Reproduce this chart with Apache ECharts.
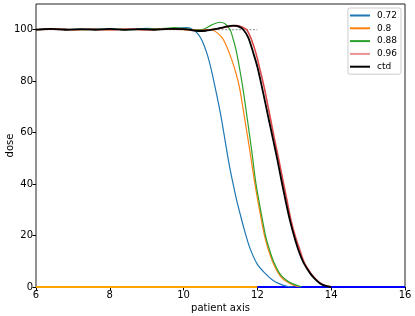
<!DOCTYPE html>
<html><head><meta charset="utf-8">
<script src="https://cdn.jsdelivr.net/npm/echarts@6/dist/echarts.min.js"></script>
<style>html,body{margin:0;padding:0;background:#fff}#c{width:415px;height:316px}</style>
</head><body><div id="c"></div>
<script>
var xTicks = [6, 8, 10, 12, 14, 16];
var yTicks = [0, 20, 40, 60, 80, 100];
var legendNames = ['0.72', '0.8', '0.88', '0.96', 'ctd'];

var x072 = [6,6.5,7,7.5,8,8.5,9,9.5,9.8,10.1,10.26,10.38,10.49,10.63,10.75,10.85,10.95,11.03,11.1,11.17,11.25,11.35,11.45,11.53,11.65,11.8,12.0,12.21,12.4,12.57,12.8,13.0];
var y072 = [100,100.4,100,100.2,100.2,100,100.5,100.2,100.6,100.8,100,98.5,96.1,90.9,84.5,77.9,71,65,59,53,46.5,39.5,33,28.5,22,15,8.8,5.3,2.8,1.4,0.3,0];

var x080 = [6,6.5,7,7.5,8,8.5,9,9.5,10,10.4,10.76,10.95,11.08,11.24,11.38,11.51,11.66,11.8,11.93,12.09,12.2,12.3,12.45,12.57,12.7,12.88,13.0,13.15];
var y080 = [100,100.3,100,100.1,100,100.2,100,100.3,100,99.8,100,98.3,96.1,90.9,85,77.9,65,52.5,40.3,27.4,19.5,14.4,8.5,5.3,3,1.4,0.6,0];

var x088 = [6,6.5,7,7.5,8,8.5,9,9.5,9.75,10,10.3,10.53,10.75,10.99,11.12,11.26,11.35,11.44,11.6,11.73,11.85,11.96,12.12,12.22,12.33,12.45,12.6,12.75,12.93,13.2];
var y088 = [100,100.2,100,100.1,100.2,100,100.2,100.5,100.8,100.5,100,100.2,101.8,102.9,102.3,100,96,90.9,77.9,65,52.5,40.3,27.4,20,14.4,9.5,5.3,3,1.4,0];

var x096 = [6,6.5,7,7.5,8,8.5,9,9.5,10,10.4,10.7,11.0,11.2,11.44,11.6,11.71,11.83,11.96,12.07,12.18,12.36,12.47,12.58,12.69,12.79,12.91,13.03,13.15,13.27,13.45,13.6,13.72,13.85,14.0];
var y096 = [100,100.3,100,100.2,100,100.2,100,100.3,100.2,99.7,100,100.6,101.2,101.6,101,100,96.5,90.9,84.5,77.9,65,57,49.5,41.5,34.5,26,19.5,14.4,9.5,5.3,2.8,1.4,0.5,0];

var xCtd = [6,6.4,6.8,7.2,7.6,8,8.4,8.8,9.2,9.6,10,10.15,10.4,10.6,10.85,11.1,11.35,11.5,11.62,11.75,11.89,12.0,12.12,12.31,12.43,12.54,12.65,12.75,12.88,13.0,13.11,13.25,13.43,13.55,13.7,13.85,14.0];
var yCtd = [100,100.3,100,100.2,100,100.3,100,100.2,100,100.3,100.2,100,99.5,99.6,100.2,101,101.6,101.2,100,97,90.9,85.5,77.9,65,57,49.5,41.5,34.5,26,19.5,14.4,9.5,5.3,3.3,1.4,0.4,0];

var xRefLine = [6, 12];
var yRefLine = [100, 100];
var xBaseA = [6, 12];
var yBaseA = [0, 0];
var xBaseB = [12, 16];
var yBaseB = [0, 0];

function pairs(xs, ys) { return xs.map(function (x, i) { return [x, ys[i]]; }); }

var font = 'DejaVu Sans';
var chart = echarts.init(document.getElementById('c'), null, {renderer: 'canvas'});
function line(name, xs, ys, color, width, extra) {
  var s = {
    name: name, type: 'line', data: pairs(xs, ys), symbol: 'none', smooth: 0.3,
    lineStyle: {color: color, width: width}, itemStyle: {color: color},
    animation: false, silent: true
  };
  if (extra) for (var k in extra) s[k] = extra[k];
  return s;
}
chart.setOption({
  animation: false,
  grid: {left: 36, right: 10, top: 4, bottom: 29, show: true, borderColor: '#222', borderWidth: 1, backgroundColor: '#fff', containLabel: false, outerBoundsMode: 'none'},
  legend: {
    data: [
      {name: '0.72'}, {name: '0.8'}, {name: '0.88'},
      {name: '0.96', itemStyle: {opacity: 0.5}}, {name: 'ctd'}
    ],
    orient: 'vertical', right: 14, top: 8,
    icon: 'rect', itemWidth: 20, itemHeight: 2, itemGap: 3.8,
    padding: [3, 4, 3, 2],
    borderColor: '#ccc', borderWidth: 1, borderRadius: 2, backgroundColor: '#fff',
    textStyle: {fontFamily: font, fontSize: 9, color: '#000', padding: [0, 0, 0, 2]},
    selectedMode: false
  },
  xAxis: {
    type: 'value', min: 6, max: 16, interval: 2,
    name: 'patient axis', nameLocation: 'middle', nameGap: 16, nameMoveOverlap: false,
    nameTextStyle: {fontFamily: font, fontSize: 10, color: '#000'},
    axisLine: {show: false},
    axisTick: {show: true, inside: false, length: 3.5, lineStyle: {color: '#000'}, customValues: xTicks},
    axisLabel: {fontFamily: font, fontSize: 10, color: '#000', margin: 3, customValues: xTicks},
    splitLine: {show: false}
  },
  yAxis: {
    type: 'value', min: 0, max: 110, interval: 20,
    name: 'dose', nameLocation: 'middle', nameGap: 21, nameMoveOverlap: false,
    nameTextStyle: {fontFamily: font, fontSize: 10, color: '#000'},
    axisLine: {show: false},
    axisTick: {show: true, inside: false, length: 3.5, lineStyle: {color: '#000'}, customValues: yTicks},
    axisLabel: {fontFamily: font, fontSize: 10, color: '#000', margin: 3, customValues: yTicks},
    splitLine: {show: false}
  },
  series: [
    line('ref', xRefLine, yRefLine, '#888', 1, {smooth: false, lineStyle: {color: '#888', width: 1, type: [2, 1.5]}}),
    line('baseA', xBaseA, yBaseA, '#ffa500', 2, {smooth: false}),
    line('baseB', xBaseB, yBaseB, '#0000ff', 2, {smooth: false}),
    line('0.72', x072, y072, '#1f77b4', 1.2),
    line('0.8', x080, y080, '#ff7f0e', 1.2),
    line('0.88', x088, y088, '#2ca02c', 1.2),
    line('0.96', x096, y096, '#d62728', 1.6, {lineStyle: {color: '#d62728', width: 1.6, opacity: 0.85}}),
    line('ctd', xCtd, yCtd, '#000', 1.8)
  ]
});
</script></body></html>
